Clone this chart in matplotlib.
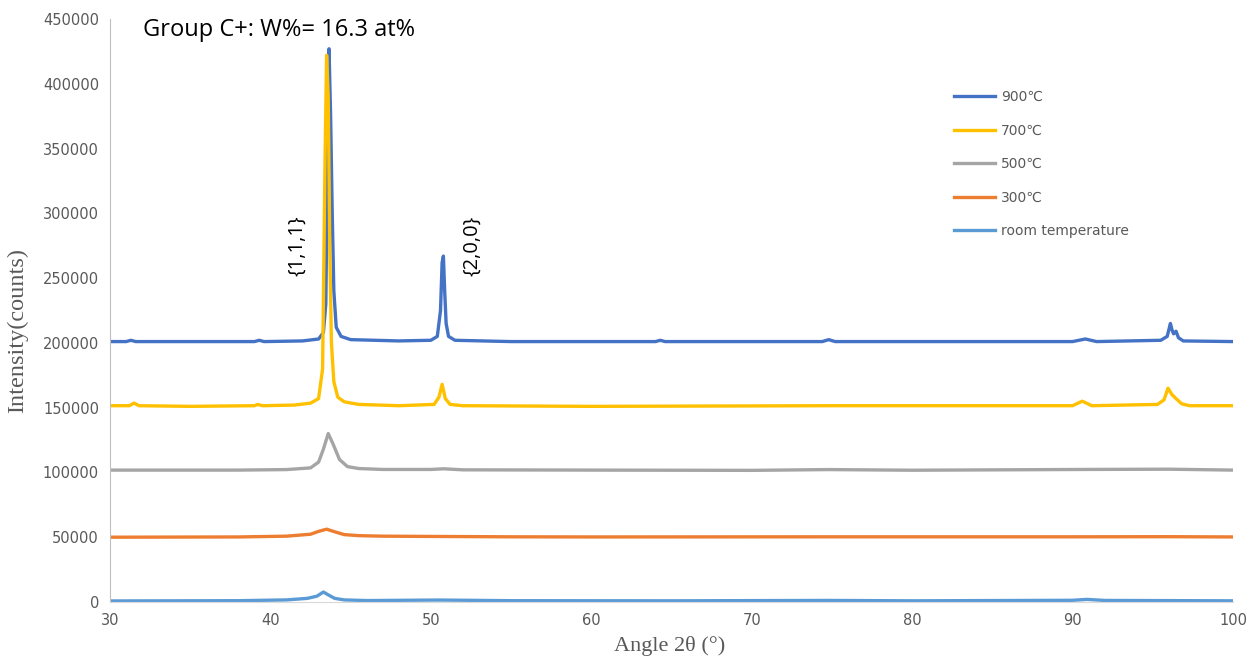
import matplotlib.pyplot as plt

# 900 C
a900 = [30, 31.0, 31.3, 31.6, 35, 39.0, 39.3, 39.6, 42.0, 43.0, 43.3, 43.45, 43.55, 43.65, 43.75, 43.85,
        43.95, 44.1, 44.4, 45.0, 48, 50.0, 50.4, 50.6, 50.7, 50.78, 50.86, 50.95, 51.1, 51.5, 55, 64.0,
        64.3, 64.6, 74.4, 74.8, 75.2, 90.0, 90.8, 91.5, 95.5, 95.9, 96.1, 96.2, 96.3, 96.45, 96.6, 96.9, 100]
i900 = [201000, 201000, 202000, 201000, 201000, 201000, 202000, 201000, 201500, 203000, 208000, 230000,
        330000, 427000, 375000, 300000, 240000, 212000, 205000, 202500, 201500, 202000, 205000, 225000,
        262000, 267000, 240000, 215000, 205000, 202000, 201000, 201000, 202000, 201000, 201000, 202500,
        201000, 201000, 203000, 201000, 202000, 205000, 215000, 210000, 207000, 209000, 204000, 201500, 201000]

# 700 C
a700 = [30, 31.2, 31.5, 31.8, 35, 39.0, 39.2, 39.5, 41.5, 42.5, 43.0, 43.25, 43.4, 43.5, 43.6, 43.7,
        43.8, 43.95, 44.2, 44.6, 45.5, 48, 50.2, 50.5, 50.7, 50.9, 51.2, 52, 60, 75, 90.0, 90.6, 91.2,
        95.3, 95.7, 95.95, 96.2, 96.45, 96.8, 97.3, 100]
i700 = [151500, 151500, 153500, 151500, 151000, 151500, 152500, 151500, 152000, 153500, 157000, 180000,
        340000, 422000, 390000, 270000, 200000, 170000, 158000, 154500, 152500, 151500, 152500, 158000,
        168000, 157000, 152500, 151500, 151000, 151500, 151500, 155000, 151500, 152500, 156000, 165000,
        160000, 157000, 153000, 151500, 151500]

# 500 C
a500 = [30, 38, 41, 42.5, 43.0, 43.3, 43.6, 43.9, 44.3, 44.8, 45.5, 47, 50, 50.8, 52, 60, 70, 74.8, 80,
        90.8, 96, 100]
i500 = [101800, 101800, 102200, 103500, 108000, 118000, 130000, 122000, 110000, 104500, 103000, 102300,
        102300, 102800, 102000, 101800, 101600, 102200, 101700, 102300, 102500, 101800]

# 300 C
a300 = [30, 38, 41, 42.5, 43.0, 43.5, 44.0, 44.6, 45.5, 47, 50, 55, 60, 75, 90, 96, 100]
i300 = [50000, 50200, 50800, 52300, 54500, 56200, 54200, 52000, 51200, 50800, 50600, 50300, 50200,
        50300, 50300, 50400, 50200]

# room temperature
art = [30, 38, 41, 42.3, 42.9, 43.3, 43.6, 44.0, 44.6, 46, 50.5, 55, 65, 74.8, 80, 90, 90.9, 92, 100]
irt = [800, 1000, 1600, 2800, 4500, 7700, 5500, 2800, 1600, 1100, 1500, 1000, 900, 1200, 900, 1300,
       2000, 1200, 900]

labels = ['900\u2103', '700\u2103', '500\u2103', '300\u2103', 'room temperature']
colors = ['#4472C4', '#FFC000', '#A5A5A5', '#ED7D31', '#5B9BD5']
xticks = [30, 40, 50, 60, 70, 80, 90, 100]
yticks = [0, 50000, 100000, 150000, 200000, 250000, 300000, 350000, 400000, 450000]

fig = plt.figure(figsize=(12.52, 6.64), dpi=100)
ax = fig.add_axes([0.0879, 0.0934, 0.8969, 0.878])

series = [(a900, i900), (a700, i700), (a500, i500), (a300, i300), (art, irt)]
for (xs, ys), lab, c in zip(series, labels, colors):
    ax.plot(xs, ys, color=c, lw=2.4, label=lab, solid_joinstyle='round')

ax.set_xlim(30, 100)
ax.set_ylim(0, 450000)
ax.set_xticks(xticks)
ax.set_yticks(yticks)
ax.set_xticklabels([str(v) for v in xticks])
ax.set_yticklabels([str(v) for v in yticks])
ax.tick_params(length=0, labelsize=10.5, colors='#595959', pad=8)

for s in ['top', 'right']:
    ax.spines[s].set_visible(False)
ax.spines['left'].set_color('#BFBFBF')
ax.spines['bottom'].set_color('#D9D9D9')

# Axis labels
ax.set_xlabel('Angle 2\u03b8 (\u00b0)', family='Liberation Serif', fontsize=16, color='#595959')
ax.xaxis.set_label_coords(0.498, -0.058)
ax.set_ylabel('Intensity(counts)', family='Liberation Serif', fontsize=17.5, color='#595959')
ax.yaxis.set_label_coords(-0.073, 0.465)

# Title inside plot
ax.text(0.029, 0.981, 'Group C+: W%= 16.3 at%', transform=ax.transAxes, fontsize=17,
        family='Open Sans', va='center', ha='left')

# Peak labels
ax.text(41.65, 275000, '{1,1,1}', rotation=90, fontsize=14.5, ha='center', va='center', family='Open Sans')
ax.text(52.6, 275000, '{2,0,0}', rotation=90, fontsize=14.5, ha='center', va='center', family='Open Sans')

leg = ax.legend(loc='upper left', bbox_to_anchor=(0.74, 0.90), frameon=False, fontsize=10,
                handlelength=3.0, labelspacing=1.41, handletextpad=0.4)
for t in leg.get_texts():
    t.set_color('#595959')

plt.savefig('out.png', dpi=100)
